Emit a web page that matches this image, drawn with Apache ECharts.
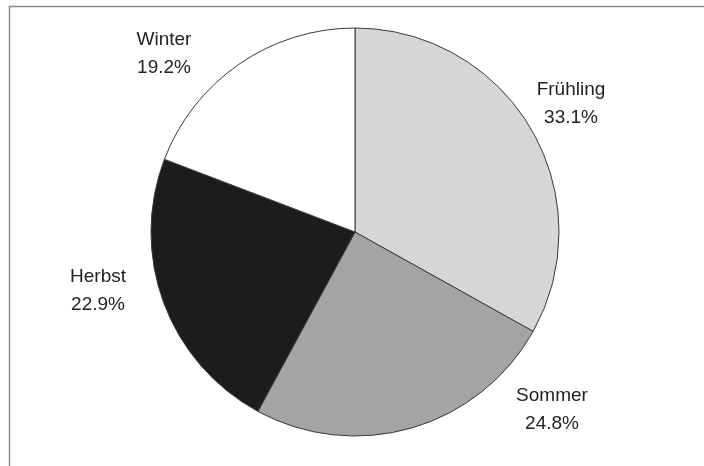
<!DOCTYPE html>
<html>
<head>
<meta charset="utf-8">
<script src="https://cdn.jsdelivr.net/npm/echarts@6/dist/echarts.min.js"></script>
<style>
	html, body { margin: 0; padding: 0; background: #fff; }
	#chart { width: 704px; height: 466px; }
</style>
</head>
<body>
<div id="chart"></div>
<script>
// seasons, clockwise from 12 o'clock
var seasons = ['Frühling', 'Sommer', 'Herbst', 'Winter'];
var shares = [33.1, 24.8, 22.9, 19.2];
var fills = ['#d6d6d6', '#a4a4a4', '#1c1c1c', '#ffffff'];

// where the label blocks sit (centre of the two lines)
var labelSpots = [[571, 104], [552, 410], [98, 291], [164, 54]];

var myChart = echarts.init(document.getElementById('chart'));

var data = [];
for (var i = 0; i < seasons.length; i++) {
	data.push({
		name: seasons[i],
		value: shares[i],
		itemStyle: { color: fills[i] }
	});
}

var option = {
	animation: false,
	backgroundColor: '#fff',
	graphic: [{
		type: 'polyline',
		shape: { points: [[9.5, 466], [9.5, 6.5], [704, 6.5]] },
		style: { stroke: '#8a8a8a', lineWidth: 1.5, fill: null }
	}],
	series: [{
		type: 'pie',
		center: [355, 232],
		radius: 204,
		startAngle: 90,
		clockwise: true,
		silent: true,
		itemStyle: {
			borderColor: '#3a3a3a',
			borderWidth: 1
		},
		label: {
			show: true,
			position: 'outside',
			formatter: function (p) {
				return p.name + '\n' + p.value.toFixed(1) + '%';
			},
			fontFamily: 'Liberation Sans',
			fontSize: 19,
			lineHeight: 28,
			color: '#222',
			align: 'center'
		},
		labelLine: { show: false },
		labelLayout: function (params) {
			var s = labelSpots[params.dataIndex];
			return {
				x: s[0],
				y: s[1],
				align: 'center',
				verticalAlign: 'middle'
			};
		},
		data: data
	}]
};

myChart.setOption(option);
</script>
</body>
</html>
